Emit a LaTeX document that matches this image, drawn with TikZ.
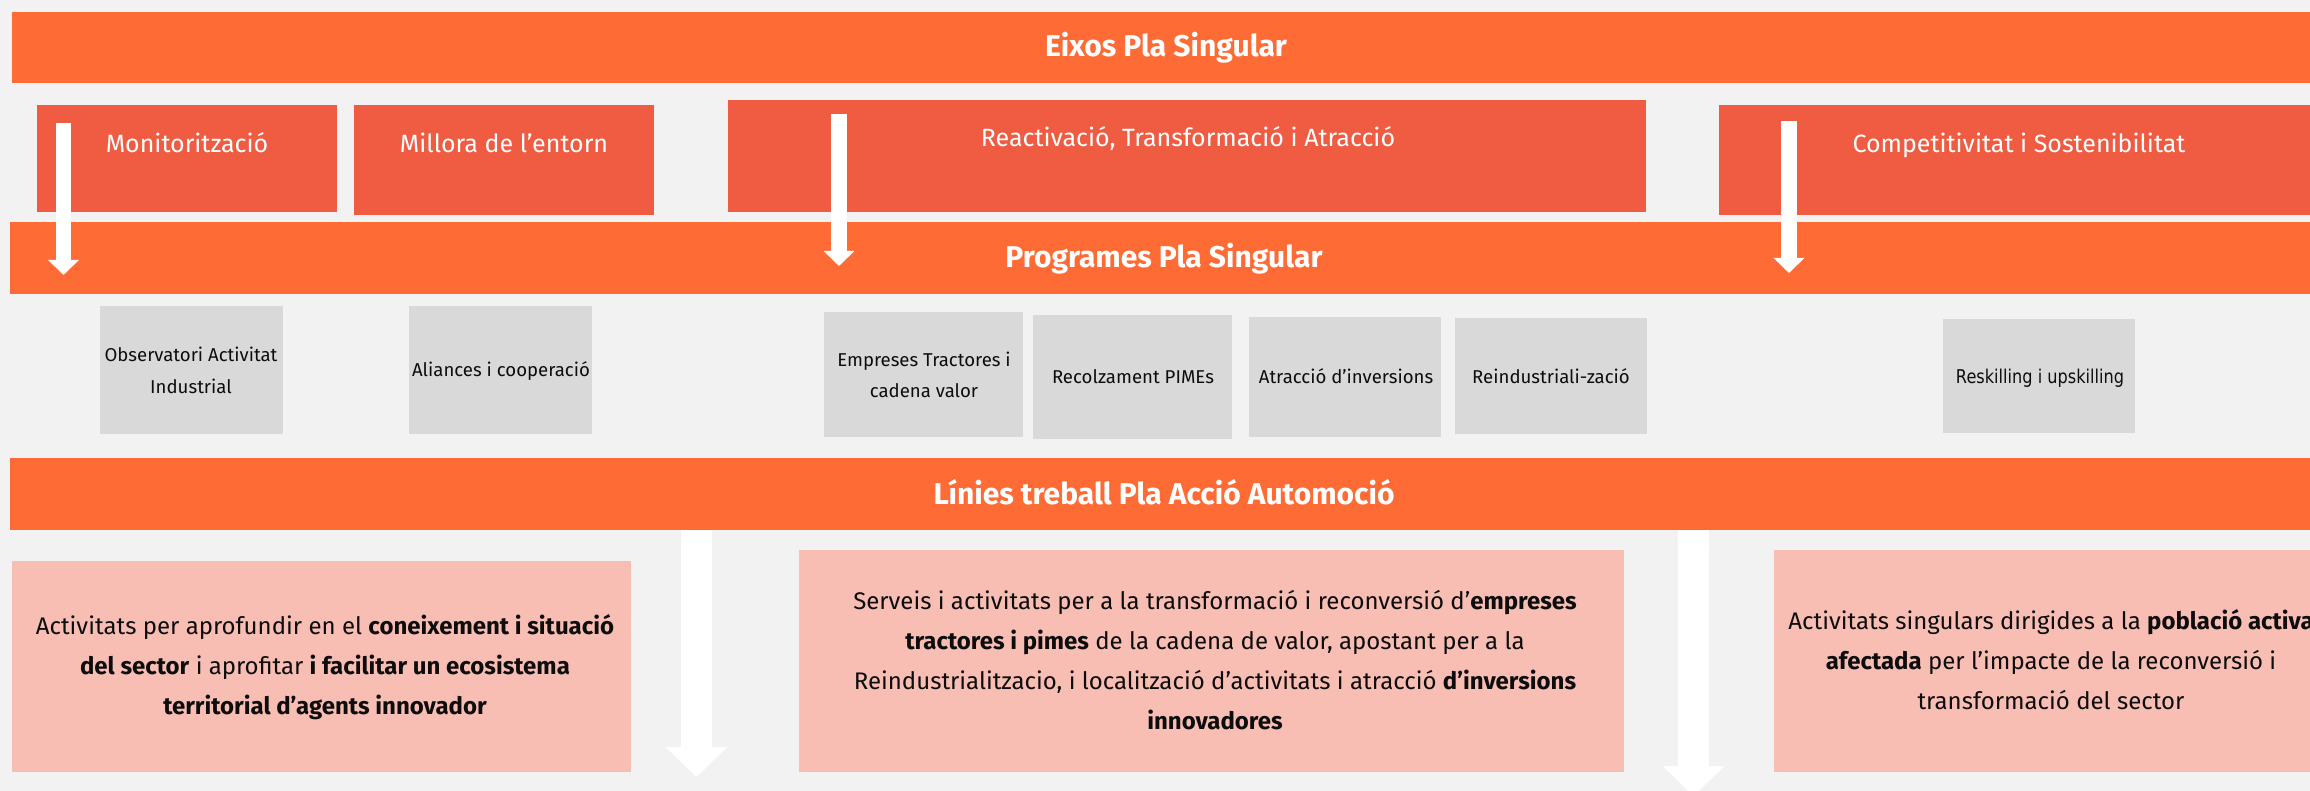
\documentclass[tikz,border=0pt]{standalone}
\usepackage{fontspec}
\setmainfont{Fira Sans}
\newfontfamily\tahomaish{DejaVu Sans}[FakeStretch=0.85]
\usetikzlibrary{arrows.meta}
\definecolor{bg}{HTML}{F2F2F2}
\definecolor{bandorange}{HTML}{FF6B35}
\definecolor{axisred}{HTML}{EF5C42}
\definecolor{progray}{HTML}{D9D9D9}
\definecolor{linpink}{HTML}{F8BDB3}
\definecolor{ink}{HTML}{0D0D0D}
\begin{document}
\begin{tikzpicture}[x=1pt,y=-1pt,
  box/.style={anchor=north west, inner sep=0pt, outer sep=0pt, draw=none},
  bandbox/.style={box, fill=bandorange},
  axisbox/.style={box, fill=axisred},
  progbox/.style={box, fill=progray},
  linbox/.style={box, fill=linpink},
  hdrtext/.style={text=white, font=\fontsize{30}{34}\selectfont\bfseries, inner sep=0pt, anchor=base},
  axistext/.style={text=white, font=\fontsize{25}{30}\selectfont, inner sep=0pt, anchor=base},
  progtext/.style={text=ink, font=\fontsize{18.6}{32}\selectfont, align=center, inner sep=0pt, anchor=base},
  lintext/.style={text=ink, font=\fontsize{24}{40}\selectfont, align=center, inner sep=0pt, anchor=base},
  thinarrow/.style={draw=white, line width=15.5pt, -{Triangle[width=30pt,length=15pt]}},
  widearrow/.style={draw=white, line width=31pt, -{Triangle[width=60pt,length=30pt]}},
]
\clip (0,0) rectangle (2310,791);
\fill[bg] (0,0) rectangle (2310,791);

% bands
\node[bandbox, minimum width=2298pt, minimum height=71pt] (eixos) at (12,12) {};
\node[bandbox, minimum width=2300pt, minimum height=72pt] (prog) at (10,222) {};
\node[bandbox, minimum width=2300pt, minimum height=72pt] (lin) at (10,458) {};
\node[hdrtext] (eixosT) at (1166,57) {Eixos Pla Singular};
\node[hdrtext] (progT) at (1164,268) {Programes Pla Singular};
\node[hdrtext] (linT) at (1164,504) {Línies treball Pla Acció Automoció};

% axes
\node[axisbox, minimum width=300pt, minimum height=107pt] (monit) at (37,105) {};
\node[axisbox, minimum width=300pt, minimum height=110pt] (millora) at (354,105) {};
\node[axisbox, minimum width=918pt, minimum height=112pt] (reac) at (728,100) {};
\node[axisbox, minimum width=601pt, minimum height=110pt] (comp) at (1719,105) {};
\node[axistext] (monitT) at (187,153) {Monitorització};
\node[axistext] (milloraT) at (504,153) {Millora de l’entorn};
\node[axistext] (reacT) at (1188,147) {Reactivació, Transformació i Atracció};
\node[axistext] (compT) at (2019,153) {Competitivitat i Sostenibilitat};

% programmes
\node[progbox, minimum width=183pt, minimum height=128pt] (obs) at (100,306) {};
\node[progbox, minimum width=183pt, minimum height=128pt] (alian) at (409,306) {};
\node[progbox, minimum width=199pt, minimum height=125pt] (empr) at (824,312) {};
\node[progbox, minimum width=199pt, minimum height=124pt] (recol) at (1033,315) {};
\node[progbox, minimum width=192pt, minimum height=120pt] (atrac) at (1249,317) {};
\node[progbox, minimum width=192pt, minimum height=116pt] (reind) at (1455,318) {};
\node[progbox, minimum width=192pt, minimum height=114pt] (resk) at (1943,319) {};
\node[progtext] (obsT) at (191,393) {Observatori Activitat\\Industrial};
\node[progtext] (alianT) at (501,377) {Aliances i cooperació};
\node[progtext] (emprT) at (924,398) {Empreses Tractores i\\cadena valor};
\node[progtext] (recolT) at (1133,384) {Recolzament PIMEs};
\node[progtext] (atracT) at (1346,384) {Atracció d’inversions};
\node[progtext] (reindT) at (1551,384) {Reindustriali-zació};
\node[progtext, font=\fontsize{19}{24}\selectfont\tahomaish] (reskT) at (2040,384) {Reskilling i upskilling};

% lines of work
\node[linbox, minimum width=619pt, minimum height=211pt] (l1) at (12,561) {};
\node[linbox, minimum width=825pt, minimum height=222pt] (l2) at (799,550) {};
\node[linbox, minimum width=554pt, minimum height=222pt] (l3) at (1774,550) {};
\node[lintext] (l1T) at (325,714) {Activitats per aprofundir en el \textbf{coneixement i situació}\\
  \textbf{del sector} i aprofitar \textbf{i facilitar un ecosistema}\\
  \textbf{territorial d’agents innovador}};
\node[lintext] (l2T) at (1215,729) {Serveis i activitats per a la transformació i reconversió d’\textbf{empreses}\\
  \textbf{tractores i pimes} de la cadena de valor, apostant per a la\\
  Reindustrialitzacio, i localització d’activitats i atracció \textbf{d’inversions}\\
  \textbf{innovadores}};
\node[lintext] (l3T) at (2051,709) {Activitats singulars dirigides a la \textbf{població activa}\\
  \textbf{afectada} per l’impacte de la reconversió i\\
  transformació del sector};

% arrows
\coordinate (a1s) at (63.5,123);  \coordinate (a1e) at (63.5,275);
\coordinate (a2s) at (839,114);   \coordinate (a2e) at (839,266);
\coordinate (a3s) at (1789,121);  \coordinate (a3e) at (1789,273);
\coordinate (a4x) at (696.5,0);   \coordinate (a4e) at (696.5,777);
\coordinate (a5x) at (1693.5,0);  \coordinate (a5e) at (1693.5,796);
\draw[thinarrow] (a1s) -- (a1e);
\draw[thinarrow] (a2s) -- (a2e);
\draw[thinarrow] (a3s) -- (a3e);
\draw[widearrow] (lin.south -| a4x) -- (a4e);
\draw[widearrow] (lin.south -| a5x) -- (a5e);
\end{tikzpicture}
\end{document}
